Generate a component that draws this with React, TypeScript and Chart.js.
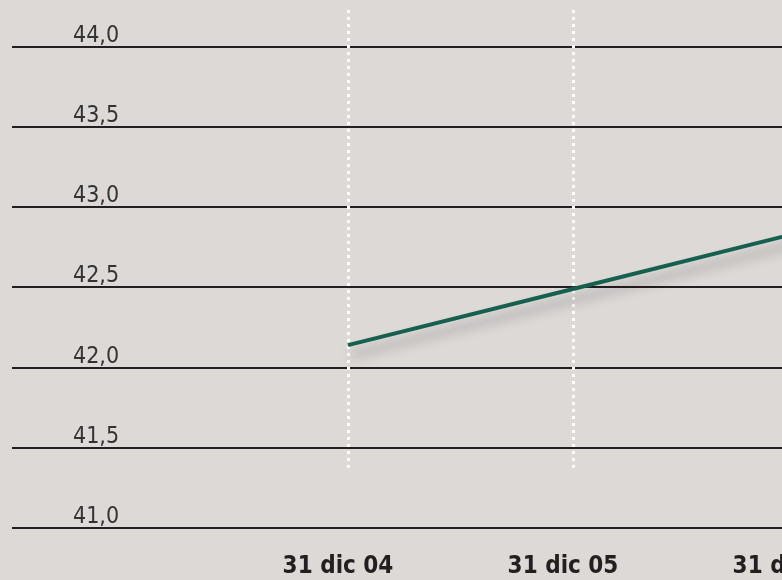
import React, { useEffect, useRef } from "react";
import { Chart, registerables } from "chart.js";

Chart.register(...registerables);

const xLabels = ["31 dic 04", "31 dic 05", "31 dic 06"];
const xPositions = [0, 1, 2];
const values = [42.14, 42.49, 42.84];
const yTicks = [41.0, 41.5, 42.0, 42.5, 43.0, 43.5, 44.0];

const FONT = '"DejaVu Sans Condensed", "Liberation Sans Narrow", "Roboto", sans-serif';
const BG = "#dcd9d7";

const dottedGrid = {
  id: "dottedGrid",
  beforeDatasetsDraw(chart: any) {
    const { ctx, chartArea, scales } = chart;
    const xs = scales.x;
    const ys = scales.y;
    const bottom = ys.getPixelForValue(41.375);
    ctx.save();
    ctx.strokeStyle = "#ffffff";
    ctx.lineWidth = 3;
    ctx.setLineDash([3, 4]);
    xPositions.forEach((v) => {
      const px = Math.round(xs.getPixelForValue(v)) + 0.5;
      ctx.beginPath();
      ctx.moveTo(px, chartArea.top);
      ctx.lineTo(px, bottom);
      ctx.stroke();
    });
    ctx.restore();
  },
};

const lineShadow = {
  id: "lineShadow",
  beforeDatasetDraw(chart: any) {
    const ctx = chart.ctx;
    ctx.save();
    ctx.shadowColor = "rgba(0,0,0,0.3)";
    ctx.shadowBlur = 12;
    ctx.shadowOffsetX = 3;
    ctx.shadowOffsetY = 10;
  },
  afterDatasetDraw(chart: any) {
    chart.ctx.restore();
  },
};

export default function App() {
  const ref = useRef<HTMLCanvasElement | null>(null);

  useEffect(() => {
    if (!ref.current) return;
    const chart = new Chart(ref.current, {
      type: "line",
      data: {
        datasets: [
          {
            data: xPositions.map((x, i) => ({ x, y: values[i] })),
            borderColor: "#17604f",
            borderWidth: 4,
            pointRadius: 0,
            tension: 0,
            fill: false,
          },
        ],
      },
      options: {
        animation: false,
        responsive: false,
        maintainAspectRatio: false,
        layout: { autoPadding: false, padding: { left: 12, top: 10, right: 0, bottom: 0 } },
        plugins: { legend: { display: false }, tooltip: { enabled: false } },
        scales: {
          x: {
            type: "linear",
            position: "bottom",
            min: -1.4933,
            max: 2.5422,
            afterBuildTicks: (s: any) => {
              s.ticks = xPositions.map((v) => ({ value: v }));
            },
            afterFit: (s: any) => {
              s.height = 52;
              s.paddingLeft = 0;
              s.paddingRight = 0;
            },
            grid: { display: false },
            border: { display: false },
            ticks: {
              autoSkip: false,
              maxRotation: 0,
              padding: 16,
              labelOffset: -10,
              color: "#231f20",
              font: { family: FONT, size: 24, weight: "bold" },
              callback: (v: any) => {
                const i = xPositions.indexOf(Number(v));
                return i >= 0 ? xLabels[i] : "";
              },
            },
          },
          y: {
            type: "linear",
            min: 41,
            max: 44.23,
            afterBuildTicks: (s: any) => {
              s.ticks = yTicks.map((v) => ({ value: v }));
            },
            afterFit: (s: any) => {
              s.width = 0;
              s.paddingTop = 0;
              s.paddingBottom = 0;
            },
            grid: { color: "#231f20", lineWidth: 2, drawTicks: false },
            border: { display: false },
            ticks: {
              mirror: true,
              padding: 61,
              labelOffset: -11,
              color: "#333333",
              font: { family: FONT, size: 23 },
              callback: (v: any) => Number(v).toFixed(1).replace(".", ","),
            },
          },
        },
      },
      plugins: [dottedGrid, lineShadow],
    });
    return () => chart.destroy();
  }, []);

  return (
    <div
      style={{
        position: "fixed",
        left: 0,
        top: 0,
        width: 782,
        height: 580,
        overflow: "hidden",
        background: BG,
      }}
    >
      <canvas ref={ref} width={920} height={580} style={{ display: "block", width: 920, height: 580 }} />
    </div>
  );
}
